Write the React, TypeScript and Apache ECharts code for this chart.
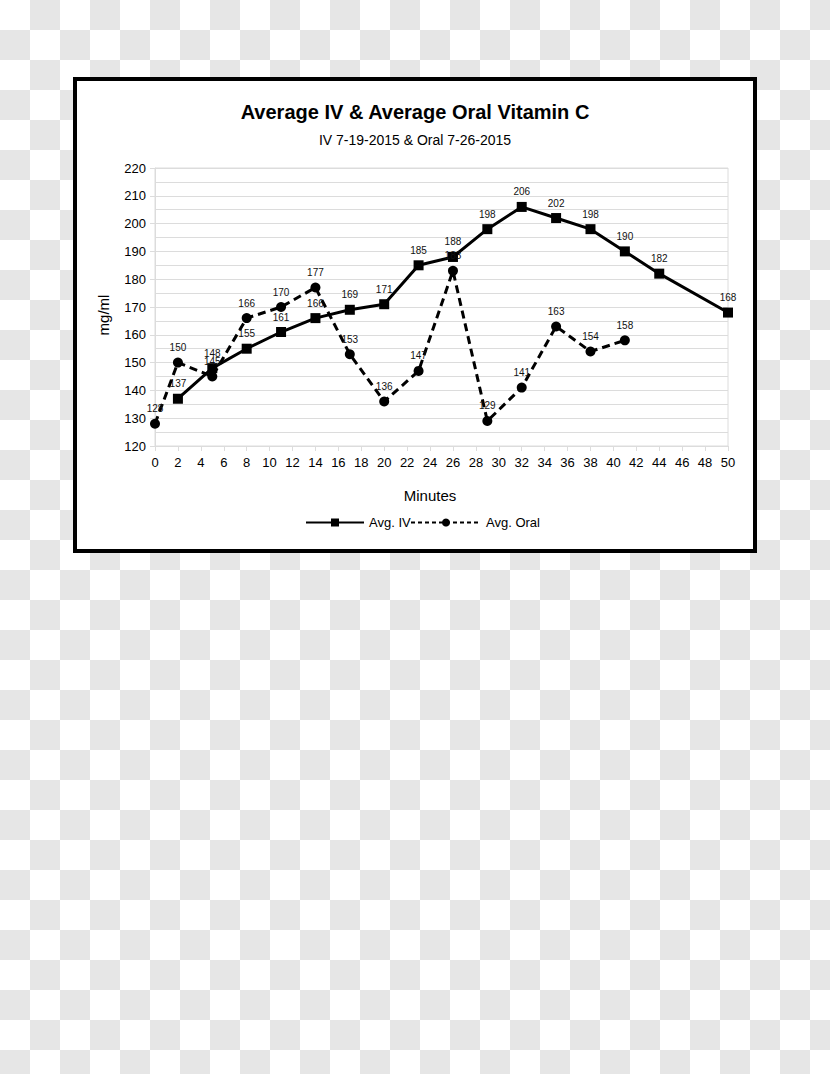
import React, { useEffect, useRef } from "react";
import * as echarts from "echarts";

const ivMinutes = [2, 5, 8, 11, 14, 17, 20, 23, 26, 29, 32, 35, 38, 41, 44, 50];
const ivValues = [137, 148, 155, 161, 166, 169, 171, 185, 188, 198, 206, 202, 198, 190, 182, 168];
const oralMinutes = [0, 2, 5, 8, 11, 14, 17, 20, 23, 26, 29, 32, 35, 38, 41];
const oralValues = [128, 150, 145, 166, 170, 177, 153, 136, 147, 183, 129, 141, 163, 154, 158];

const titleText = "Average IV & Average Oral Vitamin C";
const subtitleText = "IV 7-19-2015 & Oral 7-26-2015";
const xAxisName = "Minutes";
const yAxisName = "mg/ml";
const seriesNames = ["Avg. IV", "Avg. Oral"];

const FONT = "'Liberation Sans', Arial, Helvetica, sans-serif";
const GRID_COLOR = "#dcdcdc";

export default function App() {
  const ref = useRef<HTMLDivElement>(null);

  useEffect(() => {
    if (!ref.current) return;
    const chart = echarts.init(ref.current, undefined, { renderer: "svg" });
    const ivData = ivMinutes.map((m, i) => [m, ivValues[i]]);
    const oralData = oralMinutes.map((m, i) => [m, oralValues[i]]);

    chart.setOption({
      animation: false,
      backgroundColor: "transparent",
      textStyle: { fontFamily: FONT },
      title: [
        {
          text: titleText,
          left: "center",
          top: 102,
          padding: 0,
          textStyle: { fontFamily: FONT, fontSize: 20, fontWeight: "bold", color: "#000" },
        },
        {
          text: subtitleText,
          left: "center",
          top: 133,
          padding: 0,
          textStyle: { fontFamily: FONT, fontSize: 14, fontWeight: "normal", color: "#000" },
        },
      ],
      legend: [
        {
          data: [
            {
              name: seriesNames[0],
              lineStyle: { width: 2, type: "solid", color: "#000" },
              itemStyle: { color: "#000" },
            },
          ],
          left: 305,
          top: 516,
          padding: 0,
          itemWidth: 58,
          itemHeight: 10,
          textStyle: { fontFamily: FONT, fontSize: 13, color: "#000" },
        },
        {
          data: [
            {
              name: seriesNames[1],
              lineStyle: { width: 2, type: [4, 3], color: "#000" },
              itemStyle: { color: "#000" },
            },
          ],
          left: 410,
          top: 516,
          padding: 0,
          itemWidth: 70,
          itemHeight: 10,
          textStyle: { fontFamily: FONT, fontSize: 13, color: "#000" },
        },
      ],
      grid: {
        left: 155,
        right: 102,
        top: 168,
        bottom: 628,
        show: true,
        borderColor: GRID_COLOR,
        borderWidth: 1,
        backgroundColor: "transparent",
      },
      xAxis: {
        type: "value",
        min: 0,
        max: 50,
        interval: 2,
        axisLine: { show: true, lineStyle: { color: GRID_COLOR, width: 1 } },
        axisTick: { show: true, length: 5, lineStyle: { color: GRID_COLOR } },
        splitLine: { show: false },
        axisLabel: { fontFamily: FONT, fontSize: 13, color: "#000", margin: 10 },
      },
      yAxis: {
        type: "value",
        min: 120,
        max: 220,
        interval: 10,
        axisLine: { show: true, lineStyle: { color: GRID_COLOR, width: 1 } },
        axisTick: { show: true, length: 5, lineStyle: { color: GRID_COLOR } },
        splitLine: { show: true, lineStyle: { color: GRID_COLOR, width: 1 } },
        minorTick: { show: false, splitNumber: 2 },
        minorSplitLine: { show: true, lineStyle: { color: GRID_COLOR, width: 1 } },
        axisLabel: { fontFamily: FONT, fontSize: 13, color: "#000", margin: 9 },
      },
      graphic: [
        {
          type: "rect",
          z: -10,
          silent: true,
          shape: { x: 75, y: 79, width: 680, height: 472 },
          style: { fill: "#fff", stroke: "#000", lineWidth: 4 },
        },
        {
          type: "text",
          z: 10,
          x: 430,
          y: 495,
          style: {
            text: xAxisName,
            font: `15px ${FONT}`,
            fill: "#000",
            textAlign: "center",
            textVerticalAlign: "middle",
          },
        },
        {
          type: "text",
          z: 10,
          x: 103,
          y: 315,
          rotation: Math.PI / 2,
          style: {
            text: yAxisName,
            font: `15px ${FONT}`,
            fill: "#000",
            textAlign: "center",
            textVerticalAlign: "middle",
          },
        },
      ],
      series: [
        {
          name: seriesNames[0],
          type: "line",
          data: ivData,
          symbol: "rect",
          symbolSize: 10,
          lineStyle: { color: "#000", width: 3, type: "solid" },
          itemStyle: { color: "#000" },
          label: {
            show: true,
            position: "top",
            distance: 5,
            fontFamily: FONT,
            fontSize: 10,
            color: "#111",
          },
          z: 3,
        },
        {
          name: seriesNames[1],
          type: "line",
          data: oralData,
          symbol: "circle",
          symbolSize: 10,
          lineStyle: { color: "#000", width: 3, type: [8, 5] },
          itemStyle: { color: "#000" },
          label: {
            show: true,
            position: "top",
            distance: 5,
            fontFamily: FONT,
            fontSize: 10,
            color: "#111",
          },
          z: 4,
        },
      ],
    });

    return () => {
      chart.dispose();
    };
  }, []);

  return (
    <div
      style={{
        position: "absolute",
        left: 0,
        top: 0,
        width: 830,
        height: 1074,
        background: "repeating-conic-gradient(#e6e6e6 0% 25%, #ffffff 0% 50%) 0 0 / 60px 60px",
      }}
    >
      <div ref={ref} style={{ width: 830, height: 1074 }} />
    </div>
  );
}
